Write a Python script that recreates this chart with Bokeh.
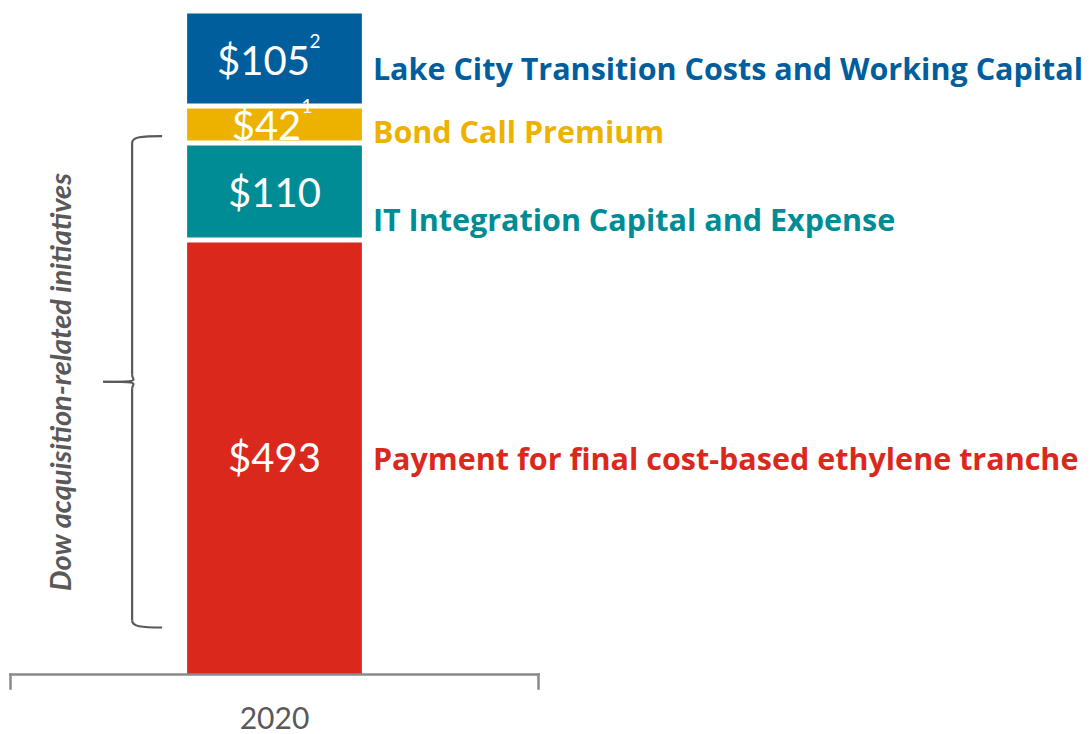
import numpy as np
from bokeh.plotting import figure
from bokeh.models import Range1d, LabelSet, Label, ColumnDataSource
from bokeh.core.properties import value
from bokeh.embed import file_html
from bokeh.resources import INLINE

# ---- data ----
categories = ["Payment for final cost-based ethylene tranche",
              "IT Integration Capital and Expense",
              "Bond Call Premium",
              "Lake City Transition Costs and Working Capital"]
values = [493, 110, 42, 105]
value_labels = ["$493", "$110", "$42", "$105"]
footnotes = ["", "", "1", "2"]
year_label = "2020"
bracket_text = "Dow acquisition-related initiatives"

# ---- styles ----
colors = ["#DA291C", "#008C95", "#EDB200", "#005E9C"]
label_dy = [-1, -27, -6, -8]           # px nudges of right-hand labels (down = negative)
value_dx = [0, 0, -8, -11]             # px nudges of value labels
FONT = "Lato"
LABEL_FONT = "Open Sans"
GREY = "#595959"
AXIS_GREY = "#8A8A8A"

W, H = 1090, 734
# axis category span 0..1 maps to pixels 10..538; value 0..total maps to 674..13
X0, X1 = 10, 538
Y0, Y1 = 674, 13
total = float(sum(values))
kx = 1.0 / (X1 - X0)            # data units per px (x)
ky = total / (Y0 - Y1)          # data units per px (y)

bottoms = np.concatenate([[0], np.cumsum(values)[:-1]]).astype(float)
tops = np.cumsum(values).astype(float)
centers = (bottoms + tops) / 2.0

bar_x = 0.5
bar_w = 0.331

p = figure(width=W, height=H, output_backend="svg", toolbar_location=None,
           x_range=Range1d(-X0 * kx, (W - X0) * kx),
           y_range=Range1d(-(H - Y0) * ky, total + Y1 * ky),
           x_axis_location=None, y_axis_location=None,
           min_border=0)
p.outline_line_color = None
p.grid.visible = False
p.background_fill_color = "white"
p.border_fill_color = "white"

src = ColumnDataSource(dict(
    x=[bar_x] * len(values), bottom=bottoms, top=tops, color=colors,
    center=centers, vlab=value_labels, cat=categories,
    vx=bar_x + np.array(value_dx) * kx,
))
p.vbar(x="x", bottom="bottom", top="top", width=bar_w, fill_color="color",
       line_color=None, source=src)

# white separators between stacked segments
n_sep = len(values) - 1
p.segment(x0=[bar_x - bar_w / 2 - 0.01] * n_sep, x1=[bar_x + bar_w / 2 + 0.01] * n_sep,
          y0=list(tops[:-1]), y1=list(tops[:-1]), line_color="white", line_width=5)

# category axis: baseline with boundary ticks at both ends of the category
tick_len = 14 * ky
p.segment(x0=[0, 0, 1], x1=[1, 0, 1], y0=[0, 0, 0], y1=[0, -tick_len, -tick_len],
          line_color=AXIS_GREY, line_width=2.5, line_cap="square")
p.add_layout(Label(x=bar_x, y=0, text=year_label, y_offset=-43,
                   text_align="center", text_baseline="middle",
                   text_color=GREY, text_font=FONT, text_font_size="30px"))

# value labels
p.add_layout(LabelSet(x="vx", y="center", text="vlab", source=src,
                      text_align="center", text_baseline="middle",
                      text_color="white", text_font=value(FONT), text_font_size="40px"))
# footnote superscripts
for i, f in enumerate(footnotes):
    if f:
        p.add_layout(Label(x=bar_x + value_dx[i] * kx, y=centers[i], text=f,
                           x_offset=len(value_labels[i]) * 11 + 2, y_offset=12,
                           text_align="left", text_baseline="bottom",
                           text_color="white", text_font=FONT, text_font_size="19px"))

# category labels to the right
for i, c in enumerate(categories):
    p.add_layout(Label(x=bar_x + bar_w / 2, y=centers[i] + label_dy[i] * ky, text=c,
                       x_offset=11, text_align="left", text_baseline="middle",
                       text_color=colors[i], text_font=LABEL_FONT, text_font_size="30.5px",
                       text_font_style="bold"))

# curly bracket spanning the acquisition-related initiatives
bl = bar_x - bar_w / 2
b_hi = tops[2] - 30 * ky
b_lo = 47 * ky
b_mid = (b_hi + b_lo) / 2
xe, xv, xt = bl - 25 * kx, bl - 55 * kx, bl - 84 * kx
d = 7 * ky
curves = dict(
    x0=[xe, xv, xt, xv], y0=[b_hi, b_mid + d, b_mid, b_lo + d],
    x1=[xv, xt, xv, xe], y1=[b_hi - d, b_mid, b_mid - d, b_lo],
    cx0=[xv + 9 * kx, xv, xv + 11 * kx, xv], cy0=[b_hi, b_mid + 1 * ky, b_mid, b_lo + 1 * ky],
    cx1=[xv, xv + 11 * kx, xv, xv + 9 * kx], cy1=[b_hi - 1 * ky, b_mid, b_mid - 1 * ky, b_lo],
)
p.bezier(line_color=GREY, line_width=2.2, **curves)
p.segment(x0=[xv, xv], x1=[xv, xv], y0=[b_hi - d, b_mid - d], y1=[b_mid + d, b_lo + d],
          line_color=GREY, line_width=2.2)

p.add_layout(Label(x=bl - 128 * kx, y=b_mid, text=bracket_text, angle=np.pi / 2,
                   text_align="center", text_baseline="middle",
                   text_color=GREY, text_font=FONT, text_font_size="29px",
                   text_font_style="bold italic"))

open("out.html", "w").write(file_html(p, INLINE))
